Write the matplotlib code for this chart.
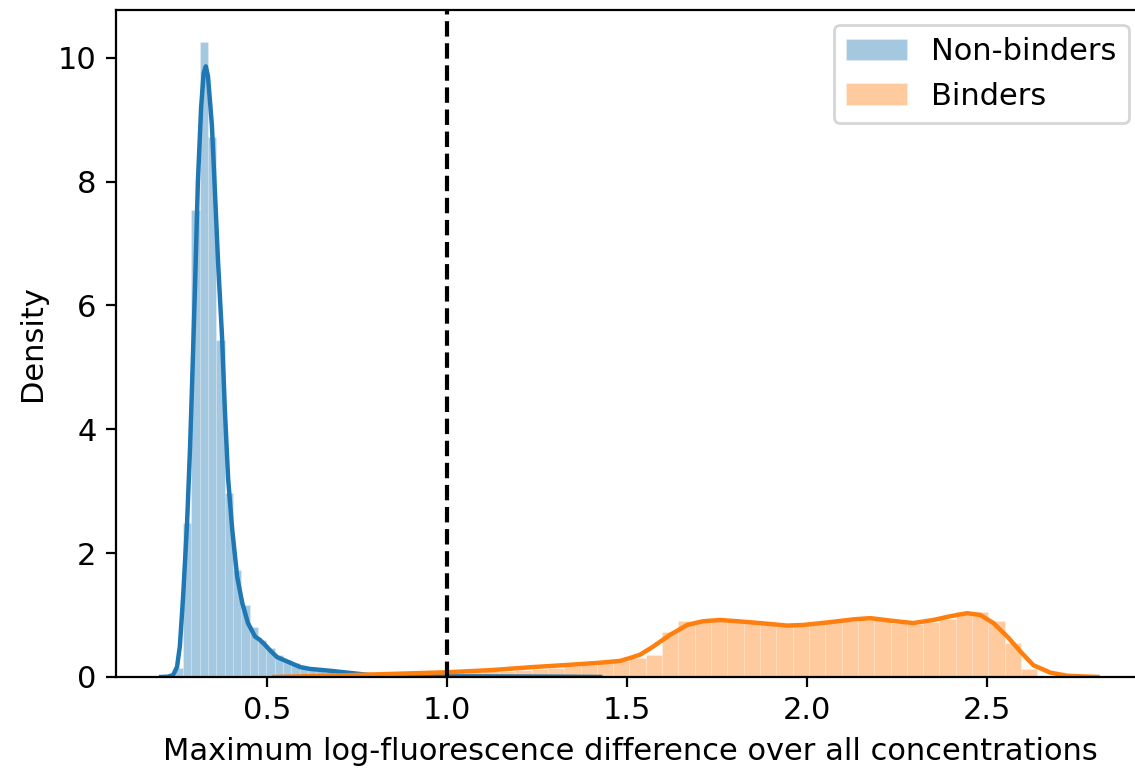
import numpy as np
import matplotlib
matplotlib.use("Agg")
import matplotlib.pyplot as plt

plt.rcParams["font.size"] = 11

# histogramme non-binders : 50 classes entre 0.244 et 1.399
nb_edges = np.linspace(0.244, 1.399, 51)
nb_heights = [0.145, 2.49, 7.54, 10.26, 8.72, 5.44, 2.97, 1.73, 1.16, 0.81,
              0.60, 0.47, 0.36, 0.27, 0.22, 0.16, 0.13, 0.10, 0.08, 0.06,
              0.06, 0.05, 0.04, 0.03, 0.03, 0.02, 0.02, 0.02, 0.02, 0.02,
              0.02, 0.015, 0.015, 0.015, 0.015, 0.01, 0.01, 0.01, 0.01, 0.01,
              0.01, 0.01, 0.01, 0.01, 0.008, 0.008, 0.008, 0.006, 0.006, 0.006]

# histogramme binders : 43 classes entre 0.691 et 2.639
b_edges = np.linspace(0.691, 2.639, 44)
b_heights = [0.02, 0.02, 0.03, 0.04, 0.04, 0.05, 0.06, 0.07, 0.08, 0.09,
             0.10, 0.12, 0.13, 0.15, 0.17, 0.19, 0.22, 0.26, 0.31, 0.36,
             0.72, 0.90, 0.92, 0.92, 0.90, 0.88, 0.86, 0.83, 0.84, 0.85,
             0.88, 0.90, 0.93, 0.92, 0.87, 0.85, 0.88, 0.93, 1.05, 1.05,
             0.91, 0.55, 0.13]

# courbes kde
nb_kde_x = [0.206, 0.225, 0.239, 0.25, 0.258, 0.267, 0.278, 0.286, 0.292, 0.30,
            0.308, 0.317, 0.324, 0.33, 0.336, 0.347, 0.356, 0.364, 0.375, 0.383,
            0.392, 0.403, 0.417, 0.431, 0.447, 0.467, 0.48, 0.494, 0.51, 0.528,
            0.564, 0.592, 0.619, 0.675, 0.731, 0.786, 0.869, 1.0, 1.147, 1.3, 1.425]
nb_kde_y = [0.0, 0.005, 0.03, 0.16, 0.5, 1.3, 2.49, 3.67, 4.75, 6.3,
            8.0, 9.2, 9.75, 9.86, 9.7, 8.9, 7.75, 6.7, 5.5, 4.3,
            3.2, 2.4, 1.62, 1.2, 0.87, 0.65, 0.6, 0.52, 0.42, 0.32,
            0.23, 0.16, 0.13, 0.10, 0.065, 0.03, 0.015, 0.01, 0.008, 0.005, 0.0]

b_kde_x = [0.52, 0.6, 0.731, 0.85, 1.0, 1.12, 1.239, 1.35, 1.425, 1.481,
           1.51, 1.536, 1.572, 1.619, 1.667, 1.711, 1.758, 1.806, 1.869, 1.944,
           1.989, 2.056, 2.128, 2.175, 2.231, 2.294, 2.35, 2.397, 2.444, 2.481,
           2.517, 2.556, 2.592, 2.628, 2.675, 2.722, 2.806]
b_kde_y = [0.0, 0.01, 0.03, 0.05, 0.076, 0.11, 0.16, 0.20, 0.23, 0.26,
           0.31, 0.36, 0.49, 0.68, 0.84, 0.90, 0.92, 0.90, 0.87, 0.83,
           0.84, 0.88, 0.93, 0.95, 0.91, 0.87, 0.92, 0.98, 1.03, 1.0,
           0.87, 0.65, 0.41, 0.19, 0.07, 0.02, 0.0]

seuil = 1.0

fig = plt.figure(figsize=(1135 / 200, 772 / 200), dpi=200)
ax = fig.add_axes([0.1022, 0.1231, 0.906, 0.864])

ax.bar(nb_edges[:-1], nb_heights, width=np.diff(nb_edges), align="edge",
       color="#1f77b4", alpha=0.4, edgecolor="white", linewidth=0.2, label="Non-binders")
ax.plot(nb_kde_x, nb_kde_y, color="#1f77b4", lw=1.6)
ax.bar(b_edges[:-1], b_heights, width=np.diff(b_edges), align="edge",
       color="#ff7f0e", alpha=0.4, edgecolor="white", linewidth=0.2, label="Binders")
ax.plot(b_kde_x, b_kde_y, color="#ff7f0e", lw=1.6)

ax.axvline(seuil, color="k", linestyle="--", lw=1.5)

ax.set_xlim(0.0806, 2.936)
ax.set_ylim(0, 10.77)
ax.set_xticks([0.5, 1.0, 1.5, 2.0, 2.5])
ax.set_yticks([0, 2, 4, 6, 8, 10])
ax.set_xlabel("Maximum log-fluorescence difference over all concentrations")
ax.set_ylabel("Density")
ax.legend(loc="upper right")

fig.savefig("out.png", dpi=200)
